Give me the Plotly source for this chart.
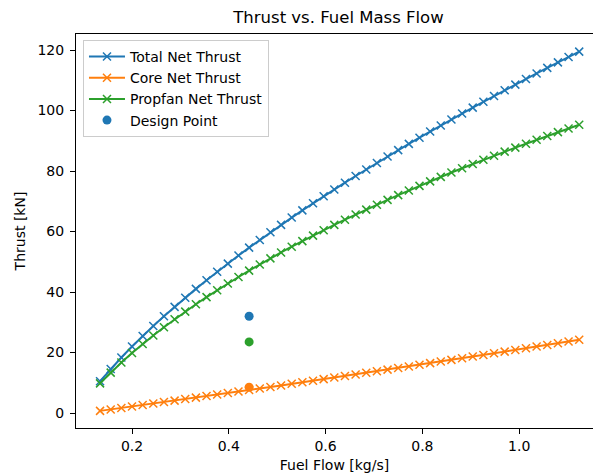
import plotly.graph_objects as go

fuel_flow = [0.134, 0.156, 0.178, 0.200, 0.222, 0.244, 0.266, 0.288, 0.310, 0.332,
             0.354, 0.376, 0.398, 0.420, 0.442, 0.464, 0.486, 0.508, 0.530, 0.552,
             0.574, 0.596, 0.618, 0.640, 0.662, 0.684, 0.706, 0.728, 0.750, 0.772,
             0.794, 0.816, 0.838, 0.860, 0.882, 0.904, 0.926, 0.948, 0.970, 0.992,
             1.014, 1.036, 1.058, 1.080, 1.102, 1.124]

total_thrust = [10.50, 14.53, 18.34, 21.96, 25.43, 28.77, 31.98, 35.08, 38.11, 41.03,
                43.89, 46.68, 49.39, 52.05, 54.67, 57.22, 59.73, 62.19, 64.61, 66.98,
                69.32, 71.63, 73.90, 76.14, 78.35, 80.52, 82.68, 84.80, 86.91, 88.98,
                91.02, 93.05, 95.07, 97.06, 99.02, 100.96, 102.89, 104.81, 106.70, 108.57,
                110.43, 112.27, 114.10, 115.92, 117.71, 119.48]

core_thrust = [0.70, 1.18, 1.66, 2.15, 2.63, 3.12, 3.61, 4.10, 4.60, 5.09,
               5.59, 6.09, 6.59, 7.09, 7.60, 8.11, 8.61, 9.12, 9.64, 10.15,
               10.67, 11.19, 11.71, 12.23, 12.75, 13.28, 13.81, 14.34, 14.87, 15.40,
               15.94, 16.48, 17.02, 17.56, 18.10, 18.65, 19.19, 19.74, 20.29, 20.84,
               21.40, 21.96, 22.51, 23.08, 23.64, 24.20]

propfan_thrust = [9.80, 13.35, 16.68, 19.81, 22.80, 25.65, 28.37, 30.98, 33.51, 35.94,
                  38.30, 40.59, 42.80, 44.96, 47.07, 49.12, 51.12, 53.07, 54.97, 56.83,
                  58.65, 60.44, 62.19, 63.91, 65.60, 67.24, 68.87, 70.46, 72.04, 73.58,
                  75.08, 76.57, 78.06, 79.50, 80.92, 82.32, 83.70, 85.07, 86.41, 87.73,
                  89.03, 90.32, 91.59, 92.85, 94.07, 95.28]

design_flow = 0.442
design_total = 32.0
design_propfan = 23.5
design_core = 8.5

x_ticks = [0.2, 0.4, 0.6, 0.8, 1.0]
y_ticks = [0, 20, 40, 60, 80, 100, 120]

BLUE, ORANGE, GREEN = "#1f77b4", "#ff7f0e", "#2ca02c"
FONT = "DejaVu Sans"

fig = go.Figure()
for name, ys, col in [("Total Net Thrust", total_thrust, BLUE),
                      ("Core Net Thrust", core_thrust, ORANGE),
                      ("Propfan Net Thrust", propfan_thrust, GREEN)]:
    fig.add_trace(go.Scatter(
        x=fuel_flow, y=ys, name=name, mode="lines+markers",
        line=dict(color=col, width=2),
        marker=dict(symbol="x-thin", size=8, line=dict(color=col, width=1.5), color=col),
    ))

fig.add_trace(go.Scatter(x=[design_flow], y=[design_total], name="Design Point",
                         mode="markers", marker=dict(color=BLUE, size=9)))
fig.add_trace(go.Scatter(x=[design_flow], y=[design_propfan], showlegend=False,
                         mode="markers", marker=dict(color=GREEN, size=9)))
fig.add_trace(go.Scatter(x=[design_flow], y=[design_core], showlegend=False,
                         mode="markers", marker=dict(color=ORANGE, size=9)))

fig.update_layout(
    width=593, height=474,
    margin=dict(l=76, r=0, t=34, b=46),
    paper_bgcolor="white", plot_bgcolor="white",
    font=dict(family=FONT, size=14, color="black"),
    title=dict(text="Thrust vs. Fuel Mass Flow", x=0.5077, xref="paper",
               y=1 - 17.5 / 474, yref="container", yanchor="middle", xanchor="center",
               font=dict(family=FONT, size=16.5, color="black")),
    legend=dict(x=0.0135, y=0.985, xanchor="left", yanchor="top",
                bgcolor="rgba(255,255,255,0.8)", bordercolor="#cccccc", borderwidth=1,
                font=dict(family=FONT, size=14, color="black"),
                tracegroupgap=0, itemwidth=36),
    showlegend=True,
)
fig.update_xaxes(range=[0.0843, 1.1525], tickvals=x_ticks, ticktext=[f"{v:.1f}" for v in x_ticks],
                 showgrid=False, zeroline=False, showline=True, mirror=True,
                 linecolor="black", linewidth=1, ticks="outside", ticklen=5, tickcolor="black",
                 title=dict(text="Fuel Flow [kg/s]", standoff=7, font=dict(size=14)),
                 tickfont=dict(size=14))
fig.update_yaxes(range=[-4.96, 125.3], tickvals=y_ticks,
                 showgrid=False, zeroline=False, showline=True, mirror=False,
                 linecolor="black", linewidth=1, ticks="outside", ticklen=5, tickcolor="black",
                 ticklabelstandoff=3,
                 title=dict(text="Thrust [kN]", standoff=8, font=dict(size=14)),
                 tickfont=dict(size=14))

fig.write_html("out.html")
